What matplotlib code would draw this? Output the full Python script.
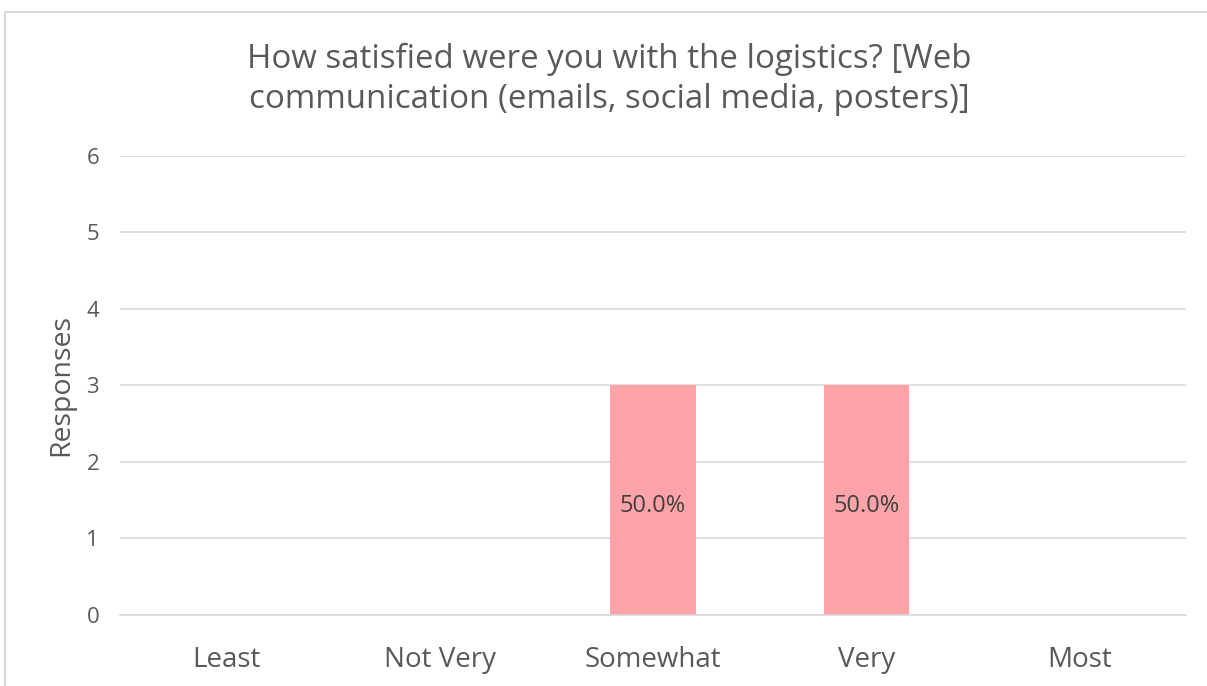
import matplotlib
matplotlib.use("Agg")
import matplotlib.pyplot as plt
from matplotlib.lines import Line2D

categories = ["Least", "Not Very", "Somewhat", "Very", "Most"]
responses = [0, 0, 3, 3, 0]
percent_labels = ["", "", "50.0%", "50.0%", ""]
title = "How satisfied were you with the logistics? [Web\ncommunication (emails, social media, posters)]"

plt.rcParams['font.family'] = ['Open Sans', 'DejaVu Sans']

fig = plt.figure(figsize=(12.07, 6.86), dpi=100)
ax = fig.add_axes([0.0994, 0.1035, 0.8832, 0.6691])

x = list(range(len(categories)))
bars = ax.bar(x, responses, width=0.4, color="#FFA3A8", zorder=2)
for xi, v, lab in zip(x, responses, percent_labels):
    if lab:
        ax.annotate(lab, (xi, v / 2), xytext=(0, -4), textcoords="offset points",
                    ha="center", va="center", fontsize=17, color="#404040", zorder=3)

ax.set_xlim(-0.5, len(categories) - 0.5)
ax.set_ylim(0, 6)
ax.set_yticks(range(0, 7))
ax.set_xticks(x)
ax.set_xticklabels(categories)
ax.grid(axis="y", color="#D9D9D9", linewidth=1.2, zorder=0)
ax.set_axisbelow(True)
for s in ["top", "right", "left"]:
    ax.spines[s].set_visible(False)
ax.spines["bottom"].set_color("#D9D9D9")
ax.spines["bottom"].set_linewidth(1.2)
ax.tick_params(axis="both", length=0, colors="#595959")
ax.tick_params(axis="x", labelsize=20, pad=22)
ax.tick_params(axis="y", labelsize=16, pad=15)
ax.set_ylabel("Responses", fontsize=20.5, color="#595959", labelpad=8)

fig.text(0.505, 0.884, title, ha="center", va="center", fontsize=23.8,
         color="#595959", linespacing=1.3)

# chart border (top and left visible)
fig.add_artist(Line2D([5/1207, 5/1207], [0, 1 - 12/686], transform=fig.transFigure,
                      color="#D9D9D9", linewidth=1.5))
fig.add_artist(Line2D([5/1207, 1], [1 - 12/686, 1 - 12/686], transform=fig.transFigure,
                      color="#D9D9D9", linewidth=1.5))

fig.savefig("out.png", dpi=100, facecolor="white")
